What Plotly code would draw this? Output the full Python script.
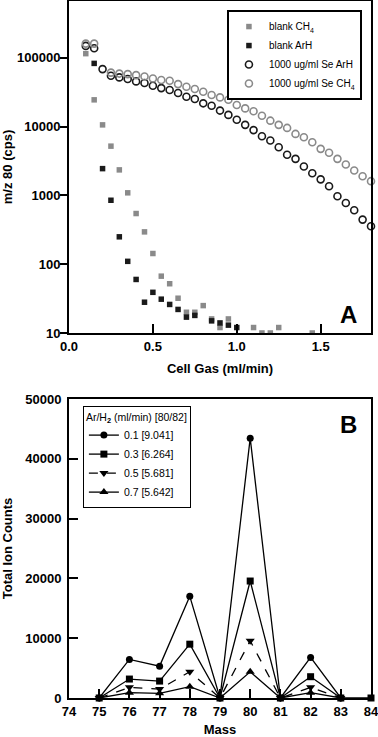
import plotly.graph_objects as go

# ---------------- Panel A data ----------------
gas_ch4_blank = [0.10, 0.15, 0.20, 0.25, 0.30, 0.35, 0.40, 0.45, 0.50, 0.55, 0.60, 0.65,
                 0.70, 0.75, 0.80, 0.85, 0.90, 0.95, 1.10, 1.15, 1.20, 1.25, 1.45]
cps_ch4_blank = [115000, 24500, 10600, 5200, 2350, 1090, 545, 295, 143, 67, 52, 32,
                 20, 20, 25, 16, 12, 16, 12, 10, 10, 12, 10]

gas_arh_blank = [0.15, 0.20, 0.25, 0.30, 0.35, 0.40, 0.45, 0.50, 0.55, 0.60, 0.65,
                 0.70, 0.75, 0.85, 0.90, 0.95, 1.00]
cps_arh_blank = [83000, 2450, 850, 250, 110, 60, 28, 39, 31, 26, 22,
                 17, 18, 15, 14, 13, 12]

gas_se_arh = [0.10, 0.15, 0.20, 0.25, 0.30, 0.35, 0.40, 0.45, 0.50, 0.55, 0.60, 0.65,
              0.70, 0.75, 0.80, 0.85, 0.90, 0.95, 1.00, 1.05, 1.10, 1.15, 1.20, 1.25,
              1.30, 1.35, 1.40, 1.45, 1.50, 1.55, 1.60, 1.65, 1.70, 1.75, 1.80]
cps_se_arh = [149000, 138000, 68500, 54800, 51900, 49100, 45400, 43000, 39300, 36300, 34000, 30800,
              27200, 25200, 21800, 20100, 17100, 14800, 12600, 10600, 8900, 7240, 6270, 5010,
              3890, 3400, 2630, 2100, 1710, 1360, 970, 775, 607, 445, 356]

gas_se_ch4 = [0.10, 0.15, 0.25, 0.30, 0.35, 0.40, 0.45, 0.50, 0.55, 0.60, 0.65,
              0.70, 0.75, 0.80, 0.85, 0.90, 0.95, 1.00, 1.05, 1.10, 1.15, 1.20, 1.25,
              1.30, 1.35, 1.40, 1.45, 1.50, 1.55, 1.60, 1.65, 1.70, 1.75, 1.80]
cps_se_ch4 = [161000, 161000, 61000, 59000, 58000, 56000, 53500, 50000, 47500, 46500, 41500,
              38000, 35200, 32100, 28800, 26600, 24600, 20600, 18400, 16700, 14400, 12200, 10600,
              9570, 7830, 7000, 5930, 4750, 4160, 3400, 2810, 2300, 1900, 1610]

a_xticks = [0.0, 0.5, 1.0, 1.5]
a_xticktext = ["0.0", "0.5", "1.0", "1.5"]
a_yticks = [10, 100, 1000, 10000, 100000]
a_yticktext = ["10", "100", "1000", "10000", "100000"]

# ---------------- Panel B data ----------------
mass = [75, 76, 77, 78, 79, 80, 81, 82, 83]
mass_03 = [75, 76, 77, 78, 79, 80, 81, 82, 83, 84]
tic_01 = [0, 6450, 5330, 17000, 0, 43450, 0, 6780, 0]
tic_03 = [0, 3170, 2830, 9000, 0, 19560, 0, 3560, 0, 0]
tic_05 = [0, 1780, 1500, 4390, 0, 9560, 0, 1780, 0]
tic_07 = [0, 890, 780, 1890, 0, 4390, 0, 890, 0]

b_xticks = [74, 75, 76, 77, 78, 79, 80, 81, 82, 83, 84]
b_xticktext = ["74", "75", "76", "77", "78", "79", "80", "81", "82", "83", "84"]
b_yticks = [0, 10000, 20000, 30000, 40000, 50000]
b_yticktext = ["0", "10000", "20000", "30000", "40000", "50000"]

FONT = "Liberation Sans, Arial, Helvetica, sans-serif"
GRAY = "#8a8a8a"
BLACK = "#1a1a1a"

fig = go.Figure()

# Panel A traces
fig.add_trace(go.Scatter(x=gas_ch4_blank, y=cps_ch4_blank, mode="markers",
                         name="blank CH<sub>4</sub>", legend="legend",
                         marker=dict(symbol="square", size=5.5, color=GRAY),
                         xaxis="x", yaxis="y", cliponaxis=True))
fig.add_trace(go.Scatter(x=gas_arh_blank, y=cps_arh_blank, mode="markers",
                         name="blank ArH", legend="legend",
                         marker=dict(symbol="square", size=5.5, color=BLACK),
                         xaxis="x", yaxis="y", cliponaxis=True))
fig.add_trace(go.Scatter(x=gas_se_arh, y=cps_se_arh, mode="markers",
                         name="1000 ug/ml Se ArH", legend="legend",
                         marker=dict(symbol="circle-open", size=7, color=BLACK,
                                     line=dict(width=1.6, color=BLACK)),
                         xaxis="x", yaxis="y", cliponaxis=False))
fig.add_trace(go.Scatter(x=gas_se_ch4, y=cps_se_ch4, mode="markers",
                         name="1000 ug/ml Se CH<sub>4</sub>", legend="legend",
                         marker=dict(symbol="circle-open", size=7, color=GRAY,
                                     line=dict(width=1.6, color=GRAY)),
                         xaxis="x", yaxis="y", cliponaxis=False))

# Panel B traces
line_kw = dict(color="black", width=1.3)
fig.add_trace(go.Scatter(x=mass, y=tic_01, mode="lines+markers", name="0.1 [9.041]",
                         legend="legend2", line=line_kw,
                         marker=dict(symbol="circle", size=7, color="black"),
                         xaxis="x2", yaxis="y2", cliponaxis=False))
fig.add_trace(go.Scatter(x=mass_03, y=tic_03, mode="lines+markers", name="0.3 [6.264]",
                         legend="legend2", line=line_kw,
                         marker=dict(symbol="square", size=7, color="black"),
                         xaxis="x2", yaxis="y2", cliponaxis=False))
fig.add_trace(go.Scatter(x=mass, y=tic_05, mode="lines+markers", name="0.5 [5.681]",
                         legend="legend2", line=dict(color="black", width=1.3, dash="dash"),
                         marker=dict(symbol="triangle-down", size=8, color="black"),
                         xaxis="x2", yaxis="y2", cliponaxis=False))
fig.add_trace(go.Scatter(x=mass, y=tic_07, mode="lines+markers", name="0.7 [5.642]",
                         legend="legend2", line=line_kw,
                         marker=dict(symbol="triangle-up", size=8, color="black"),
                         xaxis="x2", yaxis="y2", cliponaxis=False))

tickfont = dict(family=FONT, size=13, color="black", weight="bold")
titlefont = dict(family=FONT, size=13, color="black", weight="bold")
axis_common = dict(showline=True, linecolor="black", linewidth=2, mirror=True,
                   showgrid=False, zeroline=False, tickcolor="black", tickwidth=1.5,
                   tickfont=tickfont, automargin=False)

fig.update_layout(
    width=378, height=737,
    margin=dict(l=69, r=7, t=1, b=39),
    paper_bgcolor="white", plot_bgcolor="white",
    font=dict(family=FONT, color="black"),
    modebar=dict(bgcolor="rgba(0,0,0,0)", color="rgba(0,0,0,0)",
                 activecolor="rgba(0,0,0,0)"),
    xaxis=dict(domain=[0, 1], anchor="y", range=[0, 1.8],
               tickvals=a_xticks, ticktext=a_xticktext, ticks="inside", ticklen=9,
               title=dict(text="Cell Gas (ml/min)", font=titlefont, standoff=11),
               **axis_common),
    yaxis=dict(domain=[0.5237, 1.0], anchor="x", type="log", range=[1, 5.826],
               tickvals=a_yticks, ticktext=a_yticktext, ticks="outside", ticklen=7,
               ticklabelstandoff=-3,
               title=dict(text="m/z 80 (cps)", font=titlefont, standoff=6),
               **axis_common),
    xaxis2=dict(domain=[0, 1], anchor="y2", range=[74, 84],
                tickvals=b_xticks, ticktext=b_xticktext, ticks="inside", ticklen=9,
                ticklabeloverflow="allow",
                title=dict(text="Mass", font=titlefont, standoff=15),
                **axis_common),
    yaxis2=dict(domain=[0, 0.4290], anchor="x2", range=[0, 50000],
                tickvals=b_yticks, ticktext=b_yticktext, ticks="inside", ticklen=9,
                ticklabelstandoff=3,
                title=dict(text="Total Ion Counts", font=titlefont, standoff=10),
                **axis_common),
    legend=dict(x=0.97, y=0.987, xanchor="right", yanchor="top",
                bgcolor="white", bordercolor="#000000", borderwidth=2,
                font=dict(family=FONT, size=10, color="black"),
                tracegroupgap=0, itemwidth=30),
    legend2=dict(x=0.046, y=0.419, xanchor="left", yanchor="top",
                 bgcolor="white", bordercolor="#000000", borderwidth=1,
                 font=dict(family=FONT, size=10.5, color="black"),
                 title=dict(text="Ar/H<sub><b>2</b></sub> (ml/min) [80/82]",
                            font=dict(family=FONT, size=10.5, color="black"), side="top"),
                 tracegroupgap=0, itemwidth=30),
    annotations=[
        dict(text="<b>A</b>", x=0.927, y=0.5495, xref="paper", yref="paper",
             xanchor="center", yanchor="middle",
             showarrow=False, font=dict(family=FONT, size=24, color="black")),
        dict(text="<b>B</b>", x=0.924, y=0.3917, xref="paper", yref="paper",
             xanchor="center", yanchor="middle",
             showarrow=False, font=dict(family=FONT, size=24, color="black")),
    ],
    showlegend=True,
)

fig.write_html(
    "out.html",
    config={"displaylogo": False},
    post_script="document.body.style.margin='0';document.body.style.padding='0';",
)
